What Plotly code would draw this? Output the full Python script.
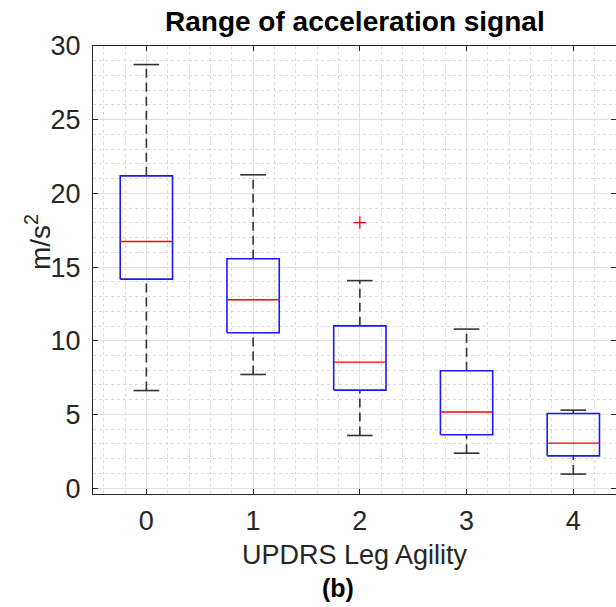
import plotly.graph_objects as go

# ---- data ----
categories = [0, 1, 2, 3, 4]
whisker_low = [6.62, 7.71, 3.57, 2.37, 0.95]
q1 = [14.18, 10.54, 6.65, 3.62, 2.19]
median = [16.73, 12.78, 8.55, 5.16, 3.05]
q3 = [21.19, 15.56, 11.01, 7.96, 5.06]
whisker_high = [28.74, 21.26, 14.08, 10.79, 5.29]
outlier_x = [2]
outlier_y = [18.02]
y_ticks = [0, 5, 10, 15, 20, 25, 30]

BOX_HALF = 0.245
CAP_HALF = 0.12

box_x, box_y = [], []
med_x, med_y = [], []
wh_x, wh_y = [], []
cap_x, cap_y = [], []
for c, lo, a, m, b, hi in zip(categories, whisker_low, q1, median, q3, whisker_high):
    box_x += [c - BOX_HALF, c + BOX_HALF, c + BOX_HALF, c - BOX_HALF, c - BOX_HALF, None]
    box_y += [a, a, b, b, a, None]
    med_x += [c - BOX_HALF, c + BOX_HALF, None]
    med_y += [m, m, None]
    wh_x += [c, c, None, c, c, None]
    wh_y += [b, hi, None, lo, a, None]
    cap_x += [c - CAP_HALF, c + CAP_HALF, None, c - CAP_HALF, c + CAP_HALF, None]
    cap_y += [hi, hi, None, lo, lo, None]

fig = go.Figure()
fig.add_trace(go.Scatter(x=wh_x, y=wh_y, mode="lines",
                         line=dict(color="#333333", width=1.6, dash="9px,5px"),
                         hoverinfo="skip"))
fig.add_trace(go.Scatter(x=cap_x, y=cap_y, mode="lines",
                         line=dict(color="#333333", width=1.6), hoverinfo="skip"))
fig.add_trace(go.Scatter(x=box_x, y=box_y, mode="lines",
                         line=dict(color="#1a1aff", width=1.6), hoverinfo="skip"))
fig.add_trace(go.Scatter(x=med_x, y=med_y, mode="lines",
                         line=dict(color="#ff0000", width=1.4), hoverinfo="skip"))
fig.add_trace(go.Scatter(x=outlier_x, y=outlier_y, mode="markers",
                         marker=dict(symbol="cross-thin", size=9,
                                     line=dict(color="#ff0000", width=1.3)),
                         hoverinfo="skip"))

FONT = "Liberation Sans, Arial, Helvetica, sans-serif"
AX = "#262626"
L, R, T, B = 93, 0, 46, 113
W, H = 616, 607
PW, PH = W - L - R, H - T - B

def px(xp):
    return (xp - L) / PW

def py(yp):
    return (H - B - yp) / PH

fig.update_layout(
    width=W, height=H,
    margin=dict(l=L, r=R, t=T, b=B),
    paper_bgcolor="white", plot_bgcolor="white",
    showlegend=False,
    font=dict(family=FONT, color=AX),
    xaxis=dict(
        range=[-0.5, 4.4], tickmode="array", tickvals=categories,
        ticktext=[str(c) for c in categories],
        ticks="inside", ticklen=5, tickcolor=AX, tickwidth=1,
        showline=True, linecolor=AX, linewidth=1, mirror="ticks",
        showgrid=True, gridcolor="#e0e0e0", gridwidth=1,
        minor=dict(dtick=0.2, tick0=0, showgrid=True, gridcolor="#dadada",
                   griddash="dot", gridwidth=1),
        tickfont=dict(size=27, color=AX, family=FONT),
        ticklabelstandoff=3, zeroline=False,
    ),
    yaxis=dict(
        range=[-0.4, 30], tickmode="array", tickvals=y_ticks,
        ticktext=[str(v) for v in y_ticks],
        ticks="inside", ticklen=5, tickcolor=AX, tickwidth=1,
        showline=True, linecolor=AX, linewidth=1, mirror="ticks",
        showgrid=True, gridcolor="#e0e0e0", gridwidth=1,
        minor=dict(dtick=1, tick0=0, showgrid=True, gridcolor="#dadada",
                   griddash="dot", gridwidth=1),
        tickfont=dict(size=27, color=AX, family=FONT),
        ticklabelstandoff=6, zeroline=False,
    ),
    annotations=[
        dict(text="<b>Range of acceleration signal</b>", xref="paper", yref="paper",
             x=px(355), y=py(21), xanchor="center", yanchor="middle",
             showarrow=False, font=dict(size=28, color="black", family=FONT)),
        dict(text="UPDRS Leg Agility", xref="paper", yref="paper",
             x=px(355), y=py(555), xanchor="center", yanchor="middle",
             showarrow=False, font=dict(size=27, color=AX, family=FONT)),
        dict(text="<b>(b)</b>", xref="paper", yref="paper",
             x=px(338), y=py(588), xanchor="center", yanchor="middle",
             showarrow=False, font=dict(size=25, color="black", family=FONT)),
        dict(text="m/s<sup>2</sup>", xref="paper", yref="paper",
             x=px(38), y=py(242), xanchor="center", yanchor="middle",
             textangle=-90, showarrow=False,
             font=dict(size=28, color=AX, family=FONT)),
    ],
)

fig.write_html("out.html")
